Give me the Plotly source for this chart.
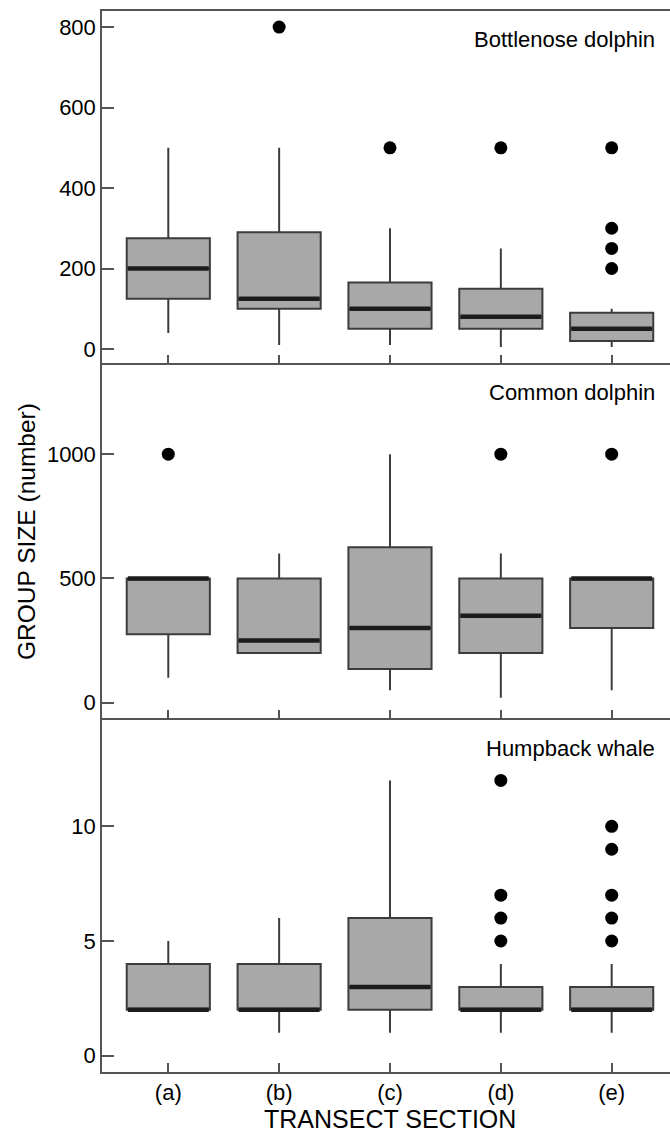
import plotly.graph_objects as go
from plotly.subplots import make_subplots

# ---------------- data ----------------
sections = ["(a)", "(b)", "(c)", "(d)", "(e)"]
species = ["Bottlenose dolphin", "Common dolphin", "Humpback whale"]

# Bottlenose dolphin
bn_low = [40, 10, 10, 5, 5]
bn_q1 = [125, 100, 50, 50, 20]
bn_med = [200, 125, 100, 80, 50]
bn_q3 = [275, 290, 165, 150, 90]
bn_high = [500, 500, 300, 250, 100]
bn_out = [[], [800], [500], [500], [200, 250, 300, 500]]

# Common dolphin
cd_low = [100, 200, 50, 20, 50]
cd_q1 = [275, 200, 135, 200, 300]
cd_med = [500, 250, 300, 350, 500]
cd_q3 = [500, 500, 625, 500, 500]
cd_high = [500, 600, 1000, 600, 500]
cd_out = [[1000], [], [], [1000], [1000]]

# Humpback whale
hw_low = [2, 1, 1, 1, 1]
hw_q1 = [2, 2, 2, 2, 2]
hw_med = [2, 2, 3, 2, 2]
hw_q3 = [4, 4, 6, 3, 3]
hw_high = [5, 6, 12, 4, 4]
hw_out = [[], [], [], [5, 6, 7, 12], [5, 6, 7, 9, 10]]

bn_ticks = [0, 200, 400, 600, 800]
cd_ticks = [0, 500, 1000]
hw_ticks = [0, 5, 10]

# ---------------- style ----------------
FONT = "Liberation Sans, Arial, Helvetica, sans-serif"
BOX_FILL = "#a8a8a8"
BOX_LINE = "#3c3c3c"
FRAME = "#555555"
BOX_W = 0.75

fig = make_subplots(rows=3, cols=1, shared_xaxes=True, vertical_spacing=0)

panels = [
    (bn_low, bn_q1, bn_med, bn_q3, bn_high, bn_out),
    (cd_low, cd_q1, cd_med, cd_q3, cd_high, cd_out),
    (hw_low, hw_q1, hw_med, hw_q3, hw_high, hw_out),
]

xpos = list(range(len(sections)))

for r, (lo, q1, md, q3, hi, out) in enumerate(panels, start=1):
    fig.add_trace(go.Box(
        x=xpos, lowerfence=lo, q1=q1, median=md, q3=q3, upperfence=hi,
        width=BOX_W, fillcolor=BOX_FILL,
        line=dict(color=BOX_LINE, width=2),
        whiskerwidth=0, boxpoints=False, showlegend=False, hoverinfo="skip",
    ), row=r, col=1)
    # thick median bars
    mx, my = [], []
    for i, m in zip(xpos, md):
        mx += [i - BOX_W / 2 + 0.01, i + BOX_W / 2 - 0.01, None]
        my += [m, m, None]
    fig.add_trace(go.Scatter(
        x=mx, y=my, mode="lines", line=dict(color="#1c1c1c", width=4.5),
        showlegend=False, hoverinfo="skip",
    ), row=r, col=1)
    # outliers
    ox, oy = [], []
    for i, vals in zip(xpos, out):
        for v in vals:
            ox.append(i)
            oy.append(v)
    fig.add_trace(go.Scatter(
        x=ox, y=oy, mode="markers",
        marker=dict(color="black", size=13, line=dict(width=0)),
        showlegend=False, hoverinfo="skip",
    ), row=r, col=1)

yranges = [[-36, 840], [-63, 1365], [-0.71, 14.71]]
yticks = [bn_ticks, cd_ticks, hw_ticks]

for r in range(1, 4):
    fig.update_yaxes(
        range=yranges[r - 1], tickvals=yticks[r - 1],
        ticks="inside", ticklen=12, tickwidth=1.5, tickcolor=FRAME,
        showline=True, linecolor=FRAME, linewidth=1.5, mirror=False,
        showgrid=False, zeroline=False,
        tickfont=dict(family=FONT, size=22, color="black"),
        row=r, col=1,
    )
    fig.update_xaxes(
        range=[-0.598, 4.526], tickvals=xpos, ticktext=sections,
        ticks="inside", ticklen=9, tickwidth=1.5, tickcolor=FRAME,
        showline=True, linecolor=FRAME, linewidth=1.5, mirror=(r == 1),
        showgrid=False, zeroline=False,
        showticklabels=(r == 3),
        tickfont=dict(family=FONT, size=22, color="black"),
        row=r, col=1,
    )

# domains to match the reference panel heights
fig.update_layout(
    yaxis=dict(domain=[0.6678, 1.0]),
    yaxis2=dict(domain=[0.3334, 0.6678]),
    yaxis3=dict(domain=[0.0, 0.3334]),
)

annotations = []
label_py = [39, 392, 748]
plot_top, plot_bottom = 11, 1072
H = plot_bottom - plot_top
for name, py in zip(species, label_py):
    annotations.append(dict(
        text=name, xref="paper", yref="paper",
        x=(657 - 102) / 568, y=(plot_bottom - py) / H,
        xanchor="right", yanchor="middle", showarrow=False,
        font=dict(family=FONT, size=22, color="black"),
    ))
annotations.append(dict(
    text="GROUP SIZE (number)", xref="paper", yref="paper",
    x=(26 - 102) / 568, y=(plot_bottom - 532) / H,
    xanchor="center", yanchor="middle", textangle=-90, showarrow=False,
    font=dict(family=FONT, size=24.5, color="black"),
))
annotations.append(dict(
    text="TRANSECT SECTION", xref="x3", yref="paper",
    x=2, y=(plot_bottom - 1119) / H,
    xanchor="center", yanchor="middle", showarrow=False,
    font=dict(family=FONT, size=25, color="black"),
))

fig.update_layout(
    width=670, height=1134,
    margin=dict(l=102, r=0, t=11, b=62),
    paper_bgcolor="white", plot_bgcolor="white",
    annotations=annotations,
    showlegend=False,
)

fig.write_html("out.html")
